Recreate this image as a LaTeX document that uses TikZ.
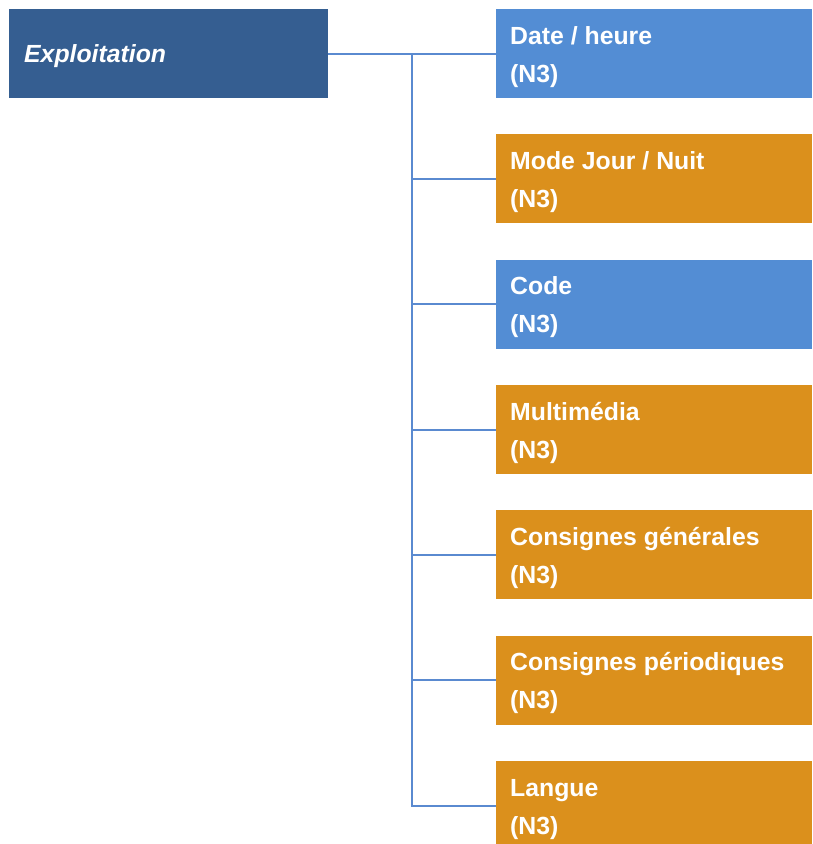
\documentclass[tikz,border=0pt]{standalone}
\usepackage{fontspec}
\setmainfont{Liberation Sans}
\definecolor{rootblue}{RGB}{53,94,145}
\definecolor{boxblue}{RGB}{83,141,212}
\definecolor{boxorange}{RGB}{219,144,28}
\definecolor{linkblue}{RGB}{90,138,208}
\begin{document}
\begin{tikzpicture}[x=1pt,y=-1pt,
  box/.style={rectangle, inner sep=0pt, outer sep=0pt, minimum width=316pt, minimum height=89pt, anchor=north west},
  rootbox/.style={box, fill=rootblue, minimum width=319pt},
  bluebox/.style={box, fill=boxblue},
  orangebox/.style={box, fill=boxorange},
  lbl/.style={anchor=base west, inner sep=0pt, text=white, font=\fontsize{24.8}{30}\selectfont\bfseries},
  rootlbl/.style={lbl, font=\fontsize{24.8}{30}\selectfont\bfseries\itshape},
  link/.style={draw=linkblue, line width=2pt}]
\useasboundingbox (0,0) rectangle (812,844);
\clip (0,0) rectangle (812,844);
% boxes
\node[rootbox] (root) at (9,9) {};
\node[bluebox] (b1) at (496,9) {};
\node[orangebox] (b2) at (496,134.3) {};
\node[bluebox] (b3) at (496,259.7) {};
\node[orangebox] (b4) at (496,385) {};
\node[orangebox] (b5) at (496,510.3) {};
\node[orangebox] (b6) at (496,635.7) {};
\node[orangebox] (b7) at (496,761) {};
% connectors
\coordinate (spine) at (412,53.5);
\draw[link] (root.east) -- (b1.west);
\draw[link] (spine) |- (b2.west);
\draw[link] (spine) |- (b3.west);
\draw[link] (spine) |- (b4.west);
\draw[link] (spine) |- (b5.west);
\draw[link] (spine) |- (b6.west);
\draw[link] (spine) |- (b7.west);
% labels
\node[rootlbl] (t0) at ([xshift=15pt,yshift=-53pt]root.north west) {Exploitation};
\node[lbl] (t1a) at ([xshift=14pt,yshift=-35pt]b1.north west) {Date / heure};
\node[lbl] (t1b) at ([xshift=14pt,yshift=-73pt]b1.north west) {(N3)};
\node[lbl] (t2a) at ([xshift=14pt,yshift=-35pt]b2.north west) {Mode Jour / Nuit};
\node[lbl] (t2b) at ([xshift=14pt,yshift=-73pt]b2.north west) {(N3)};
\node[lbl] (t3a) at ([xshift=14pt,yshift=-35pt]b3.north west) {Code};
\node[lbl] (t3b) at ([xshift=14pt,yshift=-73pt]b3.north west) {(N3)};
\node[lbl] (t4a) at ([xshift=14pt,yshift=-35pt]b4.north west) {Multimédia};
\node[lbl] (t4b) at ([xshift=14pt,yshift=-73pt]b4.north west) {(N3)};
\node[lbl] (t5a) at ([xshift=14pt,yshift=-35pt]b5.north west) {Consignes générales};
\node[lbl] (t5b) at ([xshift=14pt,yshift=-73pt]b5.north west) {(N3)};
\node[lbl] (t6a) at ([xshift=14pt,yshift=-35pt]b6.north west) {Consignes périodiques};
\node[lbl] (t6b) at ([xshift=14pt,yshift=-73pt]b6.north west) {(N3)};
\node[lbl] (t7a) at ([xshift=14pt,yshift=-35pt]b7.north west) {Langue};
\node[lbl] (t7b) at ([xshift=14pt,yshift=-73pt]b7.north west) {(N3)};
\end{tikzpicture}
\end{document}
